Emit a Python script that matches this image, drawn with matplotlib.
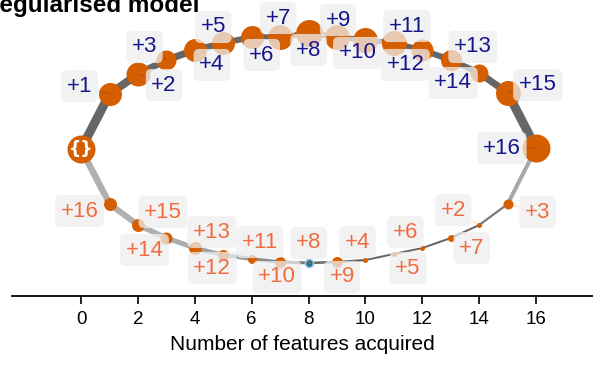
import matplotlib
matplotlib.use("Agg")
import matplotlib.pyplot as plt

plt.rcParams['font.family'] = ['Liberation Sans', 'DejaVu Sans']

# features acquired along each path
steps = list(range(17))

# upper path (regularised order), node height and node weight
upper_y = [14.7, 20.2, 22.2, 23.6, 24.6, 25.3, 25.9, 25.9, 26.3, 25.9, 25.6, 25.3, 24.6, 23.6, 22.3, 20.3, 14.8]
upper_w = [28, 23, 24, 20, 23, 23, 23, 25, 27, 25, 25, 25, 22, 21, 18, 25, 28]
upper_labels = ['+1', '+2', '+3', '+4', '+5', '+6', '+7', '+8', '+9', '+10',
                '+11', '+12', '+13', '+14', '+15', '+16']
upper_seg_w = [9, 8, 7, 7, 6.5, 6, 5.5, 5.5, 5.5, 5.5, 5.5, 5.5, 6, 6, 7, 9]

# lower path
lower_y = [14.7, 9.2, 7.1, 5.8, 4.8, 4.1, 3.7, 3.4, 3.3, 3.4, 3.6, 4.2, 4.8, 5.8, 7.1, 9.2, 14.8]
lower_w = [28, 13, 13, 12, 13, 11, 9, 11, 8, 11, 5, 5, 5, 7, 5, 10, 28]
lower_labels = ['+16', '+15', '+14', '+13', '+12', '+11', '+10', '+8', '+9',
                '+4', '+5', '+6', '+7', '+2', '+3']
lower_seg_w = [6.5, 6, 5.5, 5, 4.5, 4, 3.5, 3, 2.5, 2.2, 2, 2, 2, 2, 2.2, 4]
lower_seg_c = ['#b0b0b0', '#b0b0b0', '#b0b0b0', '#acacac', '#a4a4a4', '#999999',
               '#8a8a8a', '#7a7a7a', '#6a6a6a', '#666666', '#666666', '#666666',
               '#666666', '#666666', '#7a7a7a', '#a8a8a8']

# label offsets in pixels (layout only)
upper_off = [(-30, 8), (26, -11), (-22, 13), (17, -15), (-10, 16), (10, -18),
             (-2, 19), (0, -17), (1, 17), (-8, -13), (13, 17), (-17, -15),
             (22, 13), (-26, -10), (30, 8), (-34, 0)]
lower_off = [(-30, -7), (25, 13), (-22, -12), (17, 16), (-11, -13), (8, 17),
             (-3, -15), (0, 20), (5, -15), (-8, 18), (14, -14), (-17, 16),
             (21, -10), (-26, 15), (30, -8)]

orange = '#d55e00'
blue = '#0072b2'
navy = '#15158c'
salmon = '#ef6c42'
px = 0.72  # points per pixel at dpi 100

fig = plt.figure(figsize=(5.93, 3.65), dpi=100)
ax = fig.add_axes([12 / 593, 69 / 365, 581 / 593, 296 / 365])

for i in range(16):
    ax.plot(steps[i:i + 2], upper_y[i:i + 2], color='#666666',
            lw=upper_seg_w[i] * px, solid_capstyle='round', zorder=1)
    ax.plot(steps[i:i + 2], lower_y[i:i + 2], color=lower_seg_c[i],
            lw=lower_seg_w[i] * px, solid_capstyle='round', zorder=1)

for i in range(1, 17):
    ax.plot(steps[i], upper_y[i], 'o', ms=upper_w[i] * px, color=orange,
            mec='none', zorder=3)
for i in range(1, 16):
    if lower_labels[i - 1] == '+8':
        ax.plot(steps[i], lower_y[i], 'o', ms=lower_w[i] * px, color=blue,
                mec='#9cc4e0', mew=1.2, zorder=3)
        ax.plot(steps[i], lower_y[i], 'o', ms=2.5 * px, color=orange,
                mec='none', zorder=3.5)
    else:
        ax.plot(steps[i], lower_y[i], 'o', ms=lower_w[i] * px, color=orange,
                mec='none', zorder=3)

# start node
ax.plot(steps[0], upper_y[0], 'o', ms=upper_w[0] * px, color=orange,
        mec='none', zorder=3)
ax.text(steps[0], upper_y[0], '{}', color='white', fontsize=12.5,
        fontweight='bold', ha='center', va='center', family='DejaVu Sans',
        zorder=5)

box = dict(boxstyle='round,pad=0.25', fc='#eeeeee', ec='none', alpha=0.75)
for i, lab in enumerate(upper_labels):
    ax.annotate(lab, (steps[i + 1], upper_y[i + 1]), xytext=upper_off[i],
                textcoords='offset pixels', ha='center', va='center',
                fontsize=16, color=navy, bbox=box, zorder=4,
                arrowprops=dict(arrowstyle='-', color=navy, lw=0.6,
                                alpha=0.25, shrinkA=0, shrinkB=0))
for i, lab in enumerate(lower_labels):
    ax.annotate(lab, (steps[i + 1], lower_y[i + 1]), xytext=lower_off[i],
                textcoords='offset pixels', ha='center', va='center',
                fontsize=16, color=salmon, bbox=box, zorder=4,
                arrowprops=dict(arrowstyle='-', color=salmon, lw=0.6,
                                alpha=0.3, shrinkA=0, shrinkB=0))

ax.set_xlim(-2.43, 18.0)
ax.set_ylim(0, 29.6)
ax.set_xticks(range(0, 17, 2))
ax.set_yticks([])
for s in ['top', 'right', 'left']:
    ax.spines[s].set_visible(False)
ax.spines['bottom'].set_linewidth(1.3)
ax.tick_params(axis='x', length=6, width=1.2, labelsize=13.5, pad=5)
ax.set_xlabel('Number of features acquired', fontsize=15, labelpad=5)
ax.patch.set_alpha(0)

fig.text(200 / 593, (365 - 12) / 365, 'Regularised model', ha='right',
         va='baseline', fontsize=17.5, fontweight='bold')

fig.savefig('out.png', dpi=100)
